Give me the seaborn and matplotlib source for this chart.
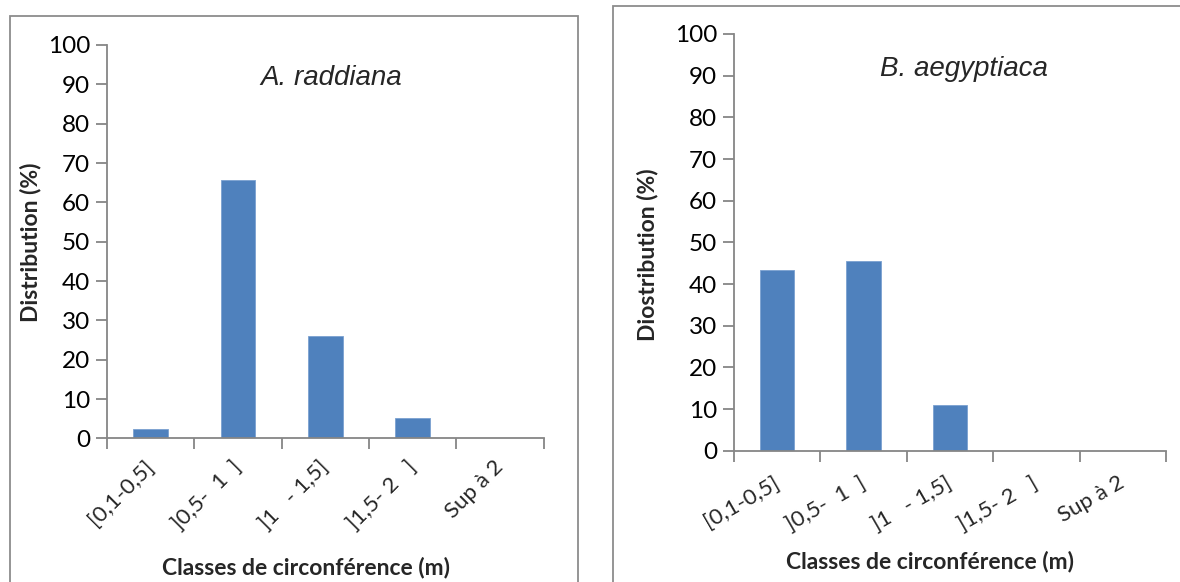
import matplotlib
matplotlib.use("Agg")
import matplotlib.pyplot as plt
from matplotlib.patches import Rectangle
import seaborn as sns
import pandas as pd

# Circumference classes shared by both species
classes = ["[0,1-0,5]", "]0,5-  1  ]", "]1   - 1,5]", "]1,5- 2   ]", "Sup à 2"]

# Distribution (%) per circumference class
raddiana_pct = [2.5, 65.7, 26.1, 5.1, 0.0]
aegyptiaca_pct = [43.3, 45.5, 11.0, 0.0, 0.0]

sns.set_theme(style="white")
plt.rcParams["font.family"] = ["Lato", "DejaVu Sans"]

BAR = "#4F81BD"
AXIS = "#868686"

fig = plt.figure(figsize=(11.8, 5.82), dpi=100)

# Chart-area borders around each panel
fig.add_artist(Rectangle((0.0085, -0.02), 0.4813, 0.993, transform=fig.transFigure,
                         fill=False, edgecolor="#8c8c8c", linewidth=1.3))
fig.add_artist(Rectangle((0.5192, -0.02), 0.50, 1.010, transform=fig.transFigure,
                         fill=False, edgecolor="#8c8c8c", linewidth=1.3))

ax1 = fig.add_axes([0.0907, 0.2467, 0.3699, 0.6760])
ax2 = fig.add_axes([0.6220, 0.2256, 0.3661, 0.7160])


def draw(ax, values, title, ylabel, rot, pad, tx, ty):
    df = pd.DataFrame({"classe": classes, "pct": values})
    sns.barplot(data=df, x="classe", y="pct", color=BAR, saturation=1,
                width=0.4, edgecolor="#7aa0d0", linewidth=0.6, ax=ax)
    ax.set_ylim(0, 100)
    ax.set_xlim(-0.5, len(classes) - 0.5)
    ax.set_yticks(range(0, 101, 10))
    ax.tick_params(axis="y", labelsize=17.5, length=8, width=1.3, color=AXIS,
                   pad=4, direction="out", left=True, labelcolor="black")
    # Tick marks sit on class boundaries, labels under class centres
    ax.set_xticks([i - 0.5 for i in range(len(classes) + 1)])
    ax.set_xticklabels([])
    ax.set_xticks(range(len(classes)), minor=True)
    ax.set_xticklabels(classes, minor=True, rotation=rot, ha="right",
                       va="center", rotation_mode="anchor", fontsize=16)
    ax.tick_params(axis="x", which="major", length=8, width=1.3, color=AXIS,
                   direction="out", bottom=True)
    ax.tick_params(axis="x", which="minor", length=0, pad=pad, bottom=True)
    for s in ("top", "right"):
        ax.spines[s].set_visible(False)
    for s in ("left", "bottom"):
        ax.spines[s].set_color(AXIS)
        ax.spines[s].set_linewidth(1.3)
    ax.set_xlabel("Classes de circonférence (m)", fontsize=16.5, fontweight="bold")
    ax.set_ylabel(ylabel, fontsize=16.5, fontweight="bold")
    ax.xaxis.label.set_va("center")
    ax.yaxis.label.set_va("center")
    ax.text(tx, ty, title, transform=ax.transAxes,
            ha="center", va="center", fontsize=20, style="italic",
            family=["Liberation Sans", "DejaVu Sans"])
    ax.grid(False)


draw(ax1, raddiana_pct, "A. raddiana", "Distribution (%)", 45, 18, 0.513, 0.916)
draw(ax2, aegyptiaca_pct, "B. aegyptiaca", "Diostribution (%)", 30, 22, 0.532, 0.917)

ax1.xaxis.set_label_coords(0.456, -0.327)
ax1.yaxis.set_label_coords(-0.176, 0.498)
ax2.xaxis.set_label_coords(0.454, -0.267)
ax2.yaxis.set_label_coords(-0.201, 0.47)

fig.savefig("out.png", dpi=100)
